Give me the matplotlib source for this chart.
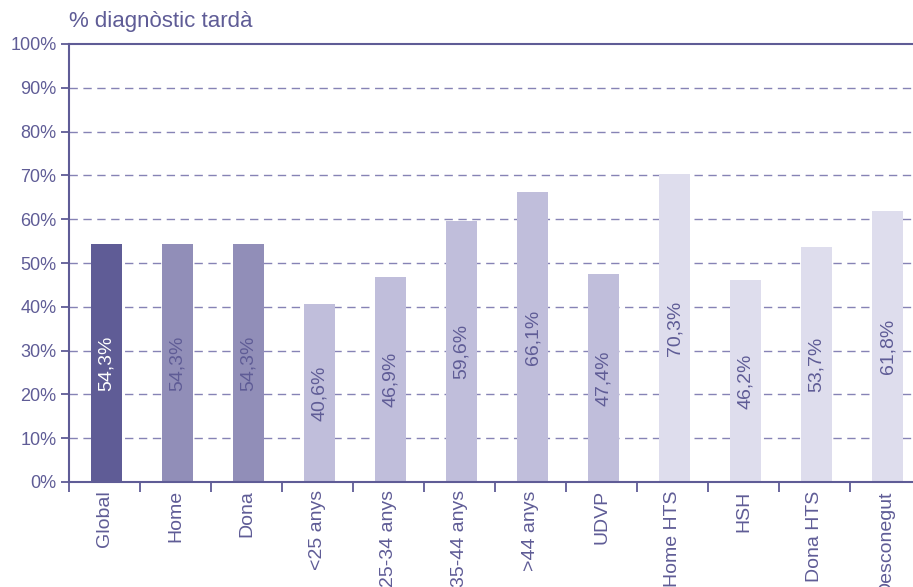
import matplotlib.pyplot as plt
import numpy as np

categories = ['Global', 'Home', 'Dona', '<25 anys', '25-34 anys', '35-44 anys',
              '>44 anys', 'UDVP', 'Home HTS', 'HSH', 'Dona HTS', 'Desconegut']
values = [54.3, 54.3, 54.3, 40.6, 46.9, 59.6, 66.1, 47.4, 70.3, 46.2, 53.7, 61.8]
labels = ['54,3%', '54,3%', '54,3%', '40,6%', '46,9%', '59,6%',
          '66,1%', '47,4%', '70,3%', '46,2%', '53,7%', '61,8%']

dark = '#5f5c96'
colors = [dark, '#918eb8', '#918eb8'] + ['#c0bedb'] * 5 + ['#dedded'] * 4
label_colors = ['white'] + [dark] * 11

plt.rcParams['font.family'] = ['Liberation Sans', 'DejaVu Sans']

fig = plt.figure(figsize=(9.13, 5.87), dpi=100)
# axes run past the right edge, as in the original
ax = fig.add_axes([69 / 913, 105 / 587, 852 / 913, 438 / 587])

x = np.arange(len(categories))
ax.bar(x + 0.03, values, width=0.44, color=colors, zorder=2)

for xi, v, lab, c in zip(x, values, labels, label_colors):
    ax.text(xi + 0.03, v / 2, lab, rotation=90, ha='center', va='center',
            color=c, fontsize=14, zorder=3)

ax.set_xlim(-0.5, len(categories) - 0.5)
ax.set_ylim(0, 100)
ax.set_yticks(range(0, 101, 10))
ax.set_yticklabels([f'{t}%' for t in range(0, 101, 10)])
for t in range(10, 100, 10):
    ax.axhline(t, color='#8683b5', lw=1.0, ls=(0, (6, 4)), zorder=1)

ax.set_xticks(x)
ax.set_xticklabels(categories, rotation=90, va='top', ha='center')
ax.set_xticks(np.arange(-0.5, len(categories), 1), minor=True)
ax.tick_params(axis='x', which='major', length=0, pad=6, labelsize=14, colors=dark)
ax.tick_params(axis='x', which='minor', length=7, width=1.3, color=dark, direction='out')
ax.tick_params(axis='y', length=6, width=1.3, color=dark, labelsize=13,
               labelcolor=dark, pad=3)

for s in ['left', 'bottom', 'top']:
    ax.spines[s].set_color(dark)
    ax.spines[s].set_linewidth(1.5)
ax.spines['right'].set_visible(False)

fig.text(69 / 913, 1 - 22 / 587, '% diagnòstic tardà', color=dark,
         fontsize=16, va='center', ha='left')

fig.savefig('out.png', dpi=100)
